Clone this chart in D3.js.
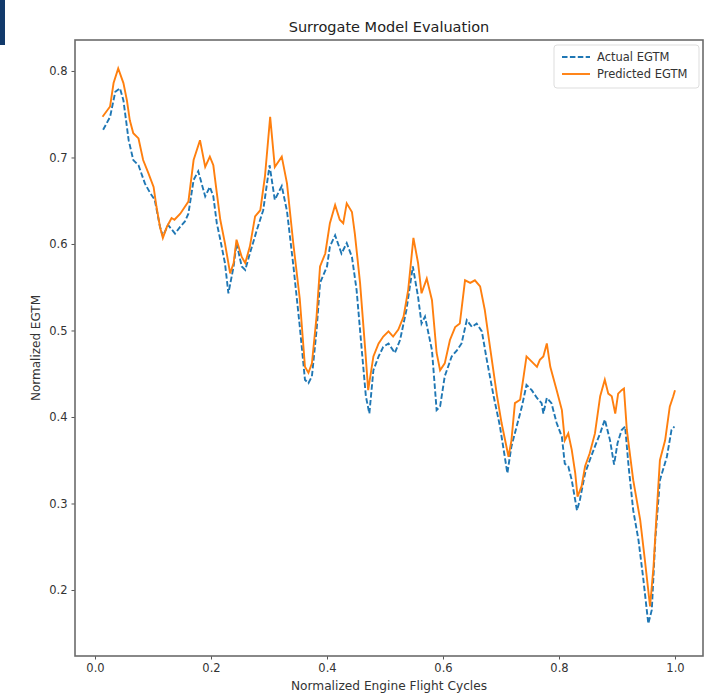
<!DOCTYPE html>
<html>
<head>
<meta charset="utf-8">
<script src="https://cdn.jsdelivr.net/npm/d3@7"></script>
<style>
  body { margin: 0; background: #fff; }
  svg { display: block; font-family: "DejaVu Sans", sans-serif; }
</style>
</head>
<body>
<div id="chart"></div>
<script>
// values, [cycles, egtm]
var actualEGTM = [
  [0.014,0.732],[0.026,0.747],[0.035,0.776],[0.043,0.780],[0.049,0.766],[0.058,0.720],
  [0.066,0.697],[0.075,0.691],[0.086,0.670],[0.095,0.659],[0.103,0.651],[0.112,0.620],
  [0.117,0.609],[0.126,0.622],[0.138,0.612],[0.147,0.620],[0.155,0.626],[0.161,0.635],
  [0.170,0.674],[0.178,0.684],[0.190,0.655],[0.198,0.666],[0.204,0.655],[0.210,0.624],
  [0.216,0.605],[0.224,0.578],[0.230,0.543],[0.239,0.574],[0.244,0.601],[0.253,0.574],
  [0.259,0.570],[0.267,0.589],[0.279,0.616],[0.290,0.639],[0.301,0.691],[0.310,0.651],
  [0.322,0.667],[0.331,0.638],[0.342,0.575],[0.353,0.505],[0.362,0.443],[0.368,0.439],
  [0.374,0.447],[0.382,0.500],[0.388,0.555],[0.400,0.574],[0.405,0.597],[0.414,0.610],
  [0.425,0.589],[0.434,0.601],[0.443,0.585],[0.451,0.547],[0.460,0.477],[0.467,0.424],
  [0.473,0.404],[0.480,0.454],[0.489,0.470],[0.497,0.481],[0.506,0.485],[0.517,0.474],
  [0.526,0.489],[0.537,0.524],[0.548,0.574],[0.557,0.539],[0.563,0.508],[0.569,0.516],
  [0.581,0.477],[0.589,0.408],[0.595,0.412],[0.603,0.447],[0.615,0.470],[0.624,0.477],
  [0.632,0.485],[0.641,0.512],[0.650,0.504],[0.658,0.508],[0.667,0.499],[0.675,0.468],
  [0.687,0.425],[0.698,0.390],[0.711,0.335],[0.718,0.366],[0.727,0.389],[0.736,0.412],
  [0.744,0.437],[0.753,0.431],[0.762,0.422],[0.770,0.416],[0.773,0.404],[0.779,0.422],
  [0.787,0.416],[0.796,0.393],[0.805,0.377],[0.810,0.346],[0.816,0.343],[0.822,0.327],
  [0.831,0.292],[0.836,0.304],[0.845,0.335],[0.853,0.350],[0.862,0.366],[0.871,0.381],
  [0.879,0.397],[0.888,0.373],[0.895,0.345],[0.901,0.370],[0.908,0.385],[0.914,0.389],
  [0.920,0.343],[0.928,0.292],[0.937,0.258],[0.945,0.215],[0.954,0.161],[0.960,0.177],
  [0.966,0.258],[0.974,0.327],[0.986,0.354],[0.994,0.385],[0.999,0.389]
];
var predictedEGTM = [
  [0.013,0.747],[0.026,0.759],[0.032,0.786],[0.040,0.803],[0.049,0.786],[0.055,0.766],
  [0.060,0.743],[0.066,0.728],[0.075,0.722],[0.083,0.697],[0.092,0.682],[0.101,0.666],
  [0.106,0.643],[0.112,0.620],[0.117,0.607],[0.124,0.620],[0.132,0.630],[0.137,0.628],
  [0.147,0.635],[0.155,0.643],[0.161,0.649],[0.170,0.697],[0.181,0.720],[0.190,0.689],
  [0.198,0.701],[0.204,0.691],[0.210,0.659],[0.216,0.628],[0.224,0.601],[0.233,0.566],
  [0.239,0.578],[0.244,0.605],[0.253,0.585],[0.259,0.578],[0.267,0.597],[0.276,0.632],
  [0.285,0.639],[0.293,0.678],[0.302,0.747],[0.310,0.689],[0.322,0.701],[0.331,0.670],
  [0.342,0.600],[0.353,0.537],[0.362,0.458],[0.368,0.451],[0.374,0.462],[0.382,0.516],
  [0.388,0.574],[0.397,0.589],[0.405,0.624],[0.414,0.645],[0.422,0.628],[0.428,0.624],
  [0.434,0.647],[0.443,0.637],[0.448,0.612],[0.457,0.555],[0.466,0.477],[0.471,0.431],
  [0.480,0.470],[0.489,0.485],[0.497,0.493],[0.506,0.499],[0.514,0.493],[0.523,0.501],
  [0.532,0.516],[0.540,0.547],[0.549,0.607],[0.557,0.578],[0.563,0.543],[0.572,0.560],
  [0.581,0.535],[0.589,0.474],[0.595,0.454],[0.603,0.462],[0.612,0.489],[0.621,0.504],
  [0.629,0.508],[0.638,0.558],[0.647,0.555],[0.655,0.558],[0.664,0.551],[0.672,0.524],
  [0.681,0.481],[0.693,0.425],[0.701,0.393],[0.713,0.354],[0.718,0.373],[0.724,0.416],
  [0.733,0.420],[0.739,0.447],[0.744,0.470],[0.753,0.464],[0.762,0.458],[0.767,0.466],
  [0.773,0.470],[0.779,0.485],[0.785,0.458],[0.796,0.431],[0.805,0.408],[0.810,0.373],
  [0.816,0.381],[0.822,0.362],[0.828,0.335],[0.832,0.308],[0.839,0.320],[0.845,0.343],
  [0.853,0.358],[0.862,0.381],[0.871,0.424],[0.879,0.443],[0.885,0.427],[0.891,0.424],
  [0.897,0.404],[0.902,0.427],[0.908,0.431],[0.912,0.433],[0.917,0.385],[0.928,0.327],
  [0.940,0.281],[0.948,0.235],[0.957,0.181],[0.963,0.227],[0.968,0.285],[0.974,0.350],
  [0.983,0.373],[0.991,0.412],[0.997,0.424],[1.000,0.431]
];
var xTicks = [0.0, 0.2, 0.4, 0.6, 0.8, 1.0];
var yTicks = [0.2, 0.3, 0.4, 0.5, 0.6, 0.7, 0.8];
var seriesNames = ["Actual EGTM", "Predicted EGTM"];

var W = 706, H = 695;
var plotL = 75, plotR = 703, plotT = 40, plotB = 656;

var svg = d3.select("#chart").append("svg")
    .attr("width", W).attr("height", H);

// navy strip in the top left corner of the screenshot
svg.append("rect").attr("x", 0).attr("y", 0).attr("width", 5).attr("height", 45)
    .attr("fill", "#123a6b");

var x = d3.scaleLinear().domain([-0.0345, 1.0483]).range([plotL, plotR]);
var y = d3.scaleLinear().domain([0.1237, 0.8358]).range([plotB, plotT]);

var line = d3.line()
    .x(function (d) { return x(d[0]); })
    .y(function (d) { return y(d[1]); });

var plot = svg.append("g");
plot.append("path").datum(actualEGTM)
    .attr("fill", "none").attr("stroke", "#1f77b4")
    .attr("stroke-width", 1.9).attr("stroke-dasharray", "5.5,2.4")
    .attr("d", line);
plot.append("path").datum(predictedEGTM)
    .attr("fill", "none").attr("stroke", "#ff7f0e")
    .attr("stroke-width", 1.9)
    .attr("d", line);

// axes
var xAxis = svg.append("g").attr("transform", "translate(0," + plotB + ")")
    .call(d3.axisBottom(x).tickValues(xTicks).tickFormat(d3.format(".1f")).tickSizeOuter(0).tickSize(3.5).tickPadding(4));
var yAxis = svg.append("g").attr("transform", "translate(" + plotL + ",0)")
    .call(d3.axisLeft(y).tickValues(yTicks).tickFormat(d3.format(".1f")).tickSizeOuter(0).tickSize(3.5).tickPadding(4));
[xAxis, yAxis].forEach(function (a) {
    a.select(".domain").remove();
    a.selectAll("line").attr("stroke", "#555");
    a.selectAll("text").attr("fill", "#333").style("font-size", "11.5px")
        .style("font-family", "DejaVu Sans, sans-serif");
});

// frame
svg.append("rect").attr("x", plotL).attr("y", plotT)
    .attr("width", plotR - plotL).attr("height", plotB - plotT)
    .attr("fill", "none").attr("stroke", "#6b6b6b").attr("stroke-width", 1.6);

svg.append("text").attr("x", (plotL + plotR) / 2).attr("y", 32)
    .attr("text-anchor", "middle").attr("fill", "#222")
    .style("font-size", "14.5px").text("Surrogate Model Evaluation");
svg.append("text").attr("x", (plotL + plotR) / 2).attr("y", 690)
    .attr("text-anchor", "middle").attr("fill", "#333")
    .style("font-size", "12.2px").text("Normalized Engine Flight Cycles");
svg.append("text").attr("transform", "translate(40," + (plotT + plotB) / 2 + ") rotate(-90)")
    .attr("text-anchor", "middle").attr("fill", "#333")
    .style("font-size", "12px").text("Normalized EGTM");

// legend
var lg = svg.append("g").attr("transform", "translate(554,45)");
lg.append("rect").attr("width", 145).attr("height", 43).attr("rx", 3)
    .attr("fill", "#fff").attr("stroke", "#ddd");
lg.selectAll("line.key").data(seriesNames).enter().append("line")
    .attr("x1", 8).attr("x2", 36)
    .attr("y1", function (d, i) { return 12 + i * 17; })
    .attr("y2", function (d, i) { return 12 + i * 17; })
    .attr("stroke", function (d, i) { return i ? "#ff7f0e" : "#1f77b4"; })
    .attr("stroke-width", 1.9)
    .attr("stroke-dasharray", function (d, i) { return i ? null : "5.5,2.4"; });
lg.selectAll("text").data(seriesNames).enter().append("text")
    .attr("x", 43).attr("y", function (d, i) { return 16 + i * 17; })
    .attr("fill", "#333").style("font-size", "11.5px")
    .text(function (d) { return d; });
</script>
</body>
</html>
